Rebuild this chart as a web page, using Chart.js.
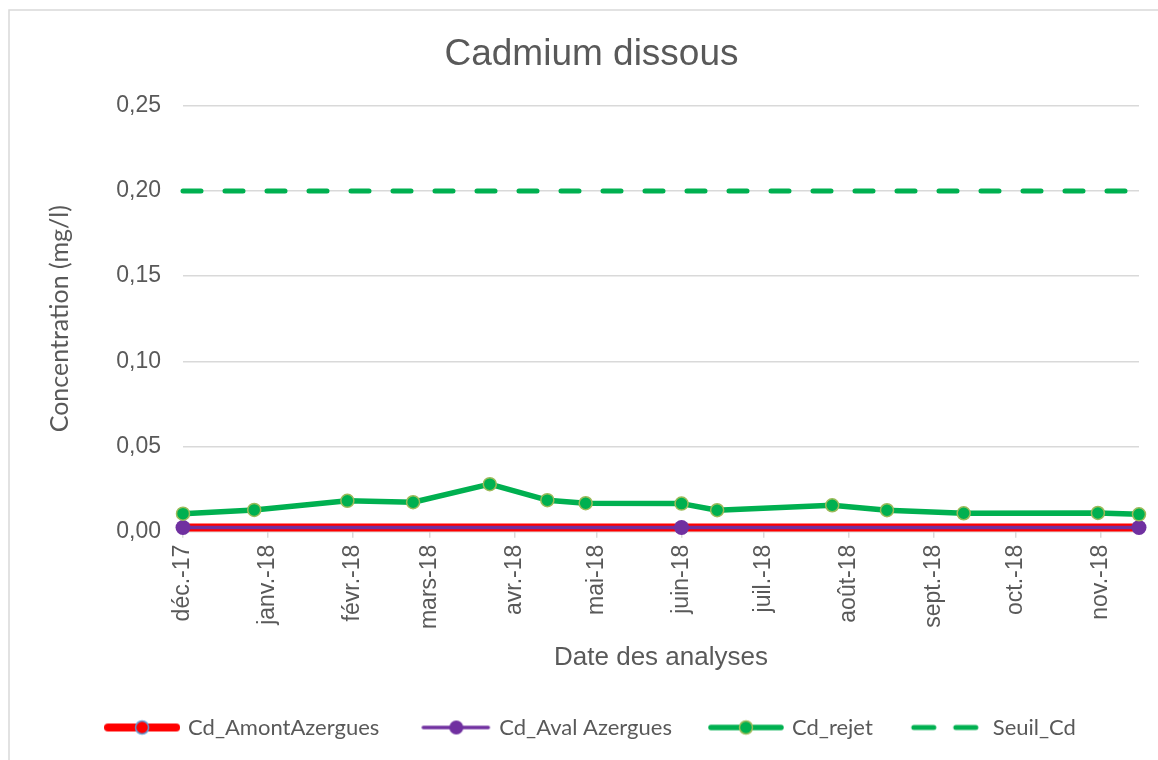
<!DOCTYPE html>
<html><head><meta charset="utf-8">
<script src="https://cdn.jsdelivr.net/npm/chart.js@4.4.1/dist/chart.umd.min.js"></script>
<style>html,body{margin:0;padding:0;background:#fff}#wrap{width:1158px;height:760px;position:relative}</style>
</head><body><div id="wrap"><canvas id="c" width="1158" height="760"></canvas></div>
<script>
// ---- data ----
const monthTickDates = ['2017-12-01','2018-01-01','2018-02-01','2018-03-01','2018-04-01','2018-05-01','2018-06-01','2018-07-01','2018-08-01','2018-09-01','2018-10-01','2018-11-01'];
const monthTickLabels = ['déc.-17','janv.-18','févr.-18','mars-18','avr.-18','mai-18','juin-18','juil.-18','août-18','sept.-18','oct.-18','nov.-18'];
const rejetDates = ['2017-12-01','2017-12-27','2018-01-30','2018-02-23','2018-03-23','2018-04-13','2018-04-27','2018-06-01','2018-06-14','2018-07-26','2018-08-15','2018-09-12','2018-10-31','2018-11-15'];
const cdRejet = [0.0106,0.0128,0.0181,0.0173,0.0279,0.0185,0.0167,0.0165,0.0126,0.0155,0.0126,0.0108,0.0110,0.0102];
const riverDates = ['2017-12-01','2018-06-01','2018-11-15'];
const cdAmontAzergues = [0.0025,0.0025,0.0025];
const cdAvalAzergues = [0.0025,0.0025,0.0025];
const seuilDates = ['2017-12-01','2018-11-15'];
const seuilCd = [0.2,0.2];
const seriesNames = ['Cd_AmontAzergues','Cd_Aval Azergues','Cd_rejet','Seuil_Cd'];
const chartTitle = 'Cadmium dissous';
const xTitle = 'Date des analyses';
const yTitle = 'Concentration (mg/l)';

function dayNum(s){const p=s.split('-').map(Number);return Date.UTC(p[0],p[1]-1,p[2])/86400000;}
function pts(dates, vals){return dates.map((d,i)=>({x:dayNum(d),y:vals[i]}));}

const RED='#ff0000', PURPLE='#7030a0', GREEN='#00b050', OLIVE='#9bbb59', GREY='#595959', GRID='#d9d9d9';

function icon(draw){const c=document.createElement('canvas');c.width=76;c.height=20;const g=c.getContext('2d');draw(g);return c;}
const icons=[
  icon(g=>{g.strokeStyle=RED;g.lineWidth=8;g.lineCap='round';g.beginPath();g.moveTo(4,10);g.lineTo(72,10);g.stroke();
    g.beginPath();g.arc(38,10,6.5,0,Math.PI*2);g.fillStyle=RED;g.fill();g.lineWidth=1.5;g.strokeStyle='#5b9bd5';g.stroke();}),
  icon(g=>{g.strokeStyle=PURPLE;g.lineWidth=3.5;g.lineCap='round';g.beginPath();g.moveTo(8,10);g.lineTo(73,10);g.stroke();
    g.beginPath();g.arc(41,10,7,0,Math.PI*2);g.fillStyle=PURPLE;g.fill();}),
  icon(g=>{g.strokeStyle=GREEN;g.lineWidth=5.5;g.lineCap='round';g.beginPath();g.moveTo(3,10);g.lineTo(73,10);g.stroke();
    g.beginPath();g.arc(38,10,6.5,0,Math.PI*2);g.fillStyle=GREEN;g.fill();g.lineWidth=1.5;g.strokeStyle=OLIVE;g.stroke();}),
  icon(g=>{g.strokeStyle=GREEN;g.lineWidth=5;g.lineCap='round';g.beginPath();g.moveTo(5,10);g.lineTo(25,10);g.moveTo(47,10);g.lineTo(67,10);g.stroke();})
];

const framePlugin={id:'frame',beforeDraw(chart){const ctx=chart.ctx;ctx.save();ctx.fillStyle='#fff';ctx.fillRect(0,0,chart.width,chart.height);
  ctx.strokeStyle=GRID;ctx.lineWidth=1.5;ctx.strokeRect(9,10,1200,800);ctx.restore();}};

const xMin=dayNum(monthTickDates[0]);
const xMax=dayNum(rejetDates[rejetDates.length-1]);

new Chart(document.getElementById('c'),{
  type:'line',
  data:{datasets:[
    {label:seriesNames[0],data:pts(riverDates,cdAmontAzergues),borderColor:RED,borderWidth:8,pointRadius:6,pointBackgroundColor:RED,pointBorderColor:'#5b9bd5',pointBorderWidth:1.5,order:4,clip:false,tension:0},
    {label:seriesNames[1],data:pts(riverDates,cdAvalAzergues),borderColor:PURPLE,borderWidth:3.5,pointRadius:7.5,pointBackgroundColor:PURPLE,pointBorderColor:PURPLE,pointBorderWidth:0,order:3,clip:false,tension:0},
    {label:seriesNames[2],data:pts(rejetDates,cdRejet),borderColor:GREEN,borderWidth:5.5,pointRadius:6.5,pointBackgroundColor:GREEN,pointBorderColor:OLIVE,pointBorderWidth:1.5,order:2,clip:false,tension:0,borderJoinStyle:'round'},
    {label:seriesNames[3],data:pts(seuilDates,seuilCd),borderColor:GREEN,borderWidth:5,borderDash:[18,24],borderCapStyle:'round',pointRadius:0,order:1,clip:false,tension:0}
  ]},
  options:{
    responsive:false,animation:false,
    layout:{padding:{left:44,right:19,top:0,bottom:11.5}},
    plugins:{
      title:{display:true,text:chartTitle,color:GREY,font:{family:'"Liberation Sans", Arial, sans-serif',size:37,weight:'normal'},padding:{top:33,bottom:28.3}},
      legend:{position:'bottom',labels:{usePointStyle:true,pointStyleWidth:70,padding:39,color:GREY,font:{family:'Lato, "Noto Sans", sans-serif',size:22},
        generateLabels(chart){return chart.data.datasets.map((ds,i)=>({text:ds.label,pointStyle:icons[i],fontColor:GREY,datasetIndex:i,hidden:false,lineWidth:0,strokeStyle:'rgba(0,0,0,0)',fillStyle:'rgba(0,0,0,0)'}));}},
        onClick:null},
      tooltip:{enabled:false}
    },
    scales:{
      x:{type:'linear',min:xMin,max:xMax,
        afterBuildTicks(s){s.ticks=monthTickDates.map(d=>({value:dayNum(d)}));},
        afterFit(s){s.height=145.8;},
        ticks:{autoSkip:false,minRotation:90,maxRotation:90,padding:7,color:GREY,font:{family:'"Liberation Sans", Arial, sans-serif',size:23},callback:(v,i)=>monthTickLabels[i]},
        grid:{drawOnChartArea:false,drawTicks:true,tickLength:6,color:GRID,lineWidth:1.5},
        border:{display:true,color:GRID,width:1},
        title:{display:true,text:xTitle,color:GREY,font:{family:'"Liberation Sans", Arial, sans-serif',size:26},padding:{top:0,bottom:3.9}}
      },
      y:{type:'linear',min:0,max:0.25,
        afterFit(s){s.width=139;},
        ticks:{stepSize:0.05,padding:22,color:GREY,font:{family:'"Liberation Sans", Arial, sans-serif',size:23},callback:v=>v.toFixed(2).replace('.',',')},
        grid:{drawTicks:false,color:GRID,lineWidth:1.5},
        border:{display:false},
        title:{display:true,text:yTitle,color:GREY,font:{family:'Lato, "Noto Sans", sans-serif',size:25},padding:{top:1,bottom:0}}
      }
    }
  },
  plugins:[framePlugin]
});
</script></body></html>
